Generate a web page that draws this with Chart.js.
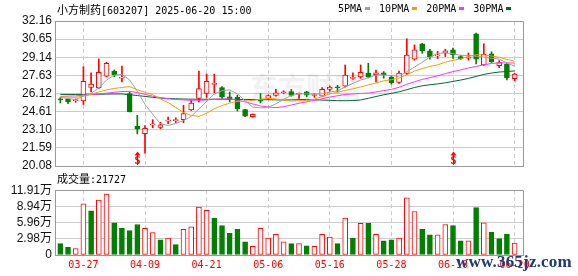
<!DOCTYPE html>
<html>
<head>
<meta charset="utf-8">
<script src="https://cdn.jsdelivr.net/npm/chart.js@4.4.1/dist/chart.umd.min.js"></script>
<style>
body { margin: 0; background: #fff; }
#wrap { position: relative; width: 578px; height: 276px; overflow: hidden; }
canvas { position: absolute; left: 0; }
#price { top: 0; }
#vol { top: 180px; }
.txt { position: absolute; white-space: nowrap; font-family: 'DejaVu Sans Mono', monospace; font-size: 10px; line-height: 12px; color: #000; }
.cn { font-family: 'Noto Sans CJK SC', sans-serif; font-size: 11px; }
.mk { display: inline-block; width: 5px; height: 3px; margin: 0 9px 2px 3px; vertical-align: middle; }
#site { position: absolute; left: 456px; top: 252px; font: bold 17px 'Liberation Serif', serif; color: #1e3a78; letter-spacing: 0.2px; }
</style>
</head>
<body>
<div id="wrap">
  <canvas id="price" width="578" height="180"></canvas>
  <canvas id="vol" width="578" height="96"></canvas>
  <div class="txt" id="title" style="left:57px;top:3px;"></div>
  <div class="txt" id="legend" style="left:338px;top:3px;"></div>
  <div class="txt" id="volTitle" style="left:57px;top:172px;"></div>
  <div id="site">www.365jz.com</div>
</div>
<script>
// ==================== DATA ====================
const stockName = '小方制药';
const stockInfo = '[603207] 2025-06-20 15:00';
const volLabel = '成交量';
const lastVolume = 21727;

const dateLabels = ['03-27', '04-09', '04-21', '05-06', '05-16', '05-28', '06-10', '06-20'];
const dateIdx = [3, 11, 19, 27, 35, 43, 51, 59];
const priceTicks = [20.08, 21.59, 23.10, 24.61, 26.12, 27.63, 29.14, 30.65, 32.16];
const volTicks = [0, 2.98, 5.96, 8.94, 11.91];
const sellIdx = [10, 51];

const open = [25.64, 25.67, 25.53, 25.50, 26.62, 26.59, 27.57, 27.99, 27.40, 26.12,
              23.40, 22.77, 23.50, 23.30, 23.82, 23.86, 23.94, 24.75, 25.70, 26.12,
              26.88, 26.62, 25.84, 25.81, 24.78, 24.19, 25.60, 25.70, 25.96, 26.18,
              26.29, 26.08, 26.25, 25.95, 25.90, 26.46, 26.64, 26.73, 27.38, 27.51,
              27.82, 27.68, 27.85, 27.46, 27.05, 27.80, 28.97, 30.26, 29.67, 29.25,
              29.47, 29.75, 29.19, 29.06, 31.10, 28.50, 29.42, 28.44, 28.55, 27.35];
const high = [25.79, 25.70, 25.67, 28.35, 27.85, 29.00, 28.72, 28.08, 28.41, 26.25,
              24.30, 23.45, 23.94, 23.72, 24.16, 24.10, 25.14, 25.56, 27.99, 27.74,
              27.74, 26.70, 26.25, 25.98, 24.80, 24.42, 26.12, 26.00, 26.46, 26.35,
              26.46, 26.15, 26.30, 26.10, 26.62, 26.75, 26.80, 28.50, 27.85, 28.50,
              28.64, 28.08, 27.95, 27.60, 27.99, 30.68, 30.17, 30.30, 29.81, 29.64,
              29.81, 29.90, 29.30, 29.50, 31.15, 30.26, 29.60, 28.86, 28.64, 27.80];
const low = [25.33, 25.28, 25.39, 25.20, 26.25, 26.54, 27.51, 27.51, 27.09, 24.58,
             22.75, 21.15, 23.27, 23.19, 23.60, 23.70, 23.69, 24.70, 25.42, 25.79,
             26.17, 25.72, 25.42, 24.66, 24.20, 24.15, 25.33, 25.62, 25.90, 26.10,
             25.90, 25.70, 25.85, 25.80, 25.85, 26.30, 26.25, 26.65, 27.30, 27.38,
             27.45, 27.09, 27.40, 26.90, 26.96, 27.70, 28.90, 29.47, 28.97, 29.03,
             29.20, 29.05, 28.95, 28.90, 28.58, 28.45, 28.70, 28.27, 27.26, 27.18];
const close = [25.60, 25.42, 25.58, 27.13, 26.90, 27.88, 28.64, 27.68, 27.46, 24.58,
               23.15, 23.21, 23.55, 23.50, 23.90, 23.92, 24.44, 25.33, 26.54, 27.13,
               26.96, 25.81, 25.67, 24.86, 24.24, 24.38, 25.48, 25.94, 26.17, 26.23,
               25.96, 26.12, 25.98, 26.00, 26.46, 26.65, 26.60, 27.66, 27.43, 27.88,
               27.51, 27.85, 27.68, 27.01, 27.82, 29.33, 29.75, 29.69, 29.19, 29.31,
               29.67, 29.33, 29.00, 29.12, 28.97, 29.39, 28.77, 28.69, 27.43, 27.74];

// volume in 万手, colour by change against the previous close
const volume = [2.1, 1.4, 1.2, 9.4, 8.1, 10.1, 11.2, 5.9, 4.9, 4.5,
                5.6, 4.9, 4.1, 2.8, 3.1, 1.9, 4.7, 5.2, 8.8, 8.2,
                6.8, 5.4, 4.0, 4.7, 2.4, 1.6, 4.9, 3.1, 3.8, 2.4,
                2.1, 2.1, 1.7, 1.6, 3.8, 3.3, 2.1, 6.8, 3.1, 5.8,
                5.8, 3.8, 2.6, 2.8, 3.1, 10.5, 8.0, 4.7, 3.7, 3.7,
                5.6, 5.4, 2.6, 2.6, 8.7, 5.9, 4.2, 3.0, 3.8, 2.17];
const volDir = ['g','g','r','r','g','r','r','g','g','g',
                'g','r','r','g','r','g','r','r','r','r',
                'g','g','g','g','g','r','r','r','r','r',
                'g','r','g','r','r','r','g','r','g','r',
                'g','r','g','g','r','r','r','g','g','r',
                'r','g','g','r','g','r','g','g','g','r'];

const ma5 = [25.80, 25.70, 25.62, 25.90, 26.13, 26.58, 27.23, 27.65, 27.71, 27.25,
             26.30, 25.22, 24.39, 23.60, 23.46, 23.62, 23.86, 24.22, 24.83, 25.47,
             26.08, 26.35, 26.42, 26.09, 25.51, 24.99, 24.93, 24.98, 25.25, 25.64,
             25.96, 26.08, 26.09, 26.06, 26.10, 26.24, 26.34, 26.67, 26.96, 27.24,
             27.42, 27.67, 27.67, 27.59, 27.57, 27.94, 28.32, 28.72, 29.16, 29.45,
             29.52, 29.44, 29.30, 29.29, 29.22, 29.16, 29.05, 28.99, 28.65, 28.40];
const ma10 = [25.84, 25.82, 25.80, 25.90, 26.05, 26.25, 26.42, 26.54, 26.62, 26.69,
              26.44, 26.22, 26.02, 25.66, 25.36, 24.96, 24.54, 24.30, 24.21, 24.47,
              24.85, 25.11, 25.32, 25.46, 25.49, 25.54, 25.64, 25.70, 25.67, 25.58,
              25.48, 25.51, 25.54, 25.65, 25.87, 26.10, 26.21, 26.38, 26.51, 26.67,
              26.83, 27.00, 27.17, 27.27, 27.41, 27.68, 27.99, 28.20, 28.37, 28.51,
              28.73, 28.88, 29.01, 29.22, 29.34, 29.34, 29.24, 29.14, 28.97, 28.81];
const ma20 = [25.88, 25.90, 25.92, 25.98, 26.02, 26.08, 26.15, 26.22, 26.28, 26.30,
              26.20, 26.05, 25.90, 25.78, 25.68, 25.62, 25.58, 25.56, 25.56, 25.58,
              25.65, 25.66, 25.67, 25.56, 25.42, 25.25, 25.09, 25.00, 24.94, 25.02,
              25.16, 25.31, 25.43, 25.55, 25.68, 25.82, 25.93, 26.04, 26.09, 26.13,
              26.15, 26.25, 26.36, 26.46, 26.64, 26.89, 27.10, 27.29, 27.44, 27.59,
              27.78, 27.94, 28.09, 28.25, 28.37, 28.51, 28.62, 28.67, 28.67, 28.66];
const ma30 = [26.04, 26.04, 26.04, 26.05, 26.05, 26.06, 26.07, 26.08, 26.08, 26.02,
              25.95, 25.88, 25.80, 25.74, 25.70, 25.68, 25.66, 25.65, 25.64, 25.64,
              25.64, 25.64, 25.63, 25.63, 25.62, 25.62, 25.61, 25.60, 25.59, 25.58,
              25.59, 25.61, 25.63, 25.59, 25.57, 25.55, 25.52, 25.52, 25.53, 25.58,
              25.72, 25.87, 26.01, 26.13, 26.26, 26.44, 26.62, 26.76, 26.85, 26.92,
              27.01, 27.13, 27.24, 27.38, 27.54, 27.71, 27.82, 27.91, 27.95, 28.00];

const maLabels = ['5PMA', '10PMA', '20PMA', '30PMA'];
const maColors = ['#a0a0a0', '#f5a200', '#ff33ff', '#006633'];

// ==================== TEXT OVERLAYS ====================
document.getElementById('title').innerHTML = '<span class="cn">' + stockName + '</span>' + stockInfo;
document.getElementById('volTitle').innerHTML = '<span class="cn">' + volLabel + '</span>:' + lastVolume;
document.getElementById('legend').innerHTML = maLabels.map((l, k) =>
    l + '<span class="mk" style="background:' + maColors[k] + '"></span>').join('');

// ==================== CHARTS ====================
const UP = '#ff0000';
const DOWN = '#008000';
const GRID = '#cccccc';
const FRAME = '#999999';
const X_MIN = -0.69, X_MAX = 60.09;
const idx = close.map((_, i) => i);

Chart.defaults.font.family = "'Liberation Sans', 'Noto Sans CJK SC', sans-serif";
Chart.defaults.animation = false;

function frameLines(chart) {
    const { ctx, chartArea: a } = chart;
    ctx.save();
    ctx.strokeStyle = FRAME;
    ctx.lineWidth = 1;
    ctx.beginPath();
    ctx.moveTo(a.left, Math.round(a.top) + 0.5);
    ctx.lineTo(a.right + 0.5, Math.round(a.top) + 0.5);
    ctx.lineTo(a.right + 0.5, a.bottom);
    ctx.stroke();
    ctx.restore();
}

function dateXScale(showLabels) {
    return {
        type: 'linear',
        min: X_MIN,
        max: X_MAX,
        offset: false,
        afterBuildTicks: s => { s.ticks = dateIdx.map(v => ({ value: v })); },
        ticks: {
            display: showLabels,
            autoSkip: false,
            maxRotation: 0,
            padding: 4,
            color: UP,
            font: { family: "'DejaVu Sans Mono', monospace", size: 10 },
            callback: v => dateLabels[dateIdx.indexOf(v)]
        },
        grid: { color: GRID, drawTicks: false, offset: false },
        border: { display: true, color: FRAME, dash: [4, 3] },
        afterFit: s => { s.height = showLabels ? 21 : 0; }
    };
}

const pricePlugin = {
    id: 'priceExtras',
    beforeDatasetsDraw(chart) {
        // faint watermark
        const { ctx } = chart;
        ctx.save();
        ctx.fillStyle = 'rgba(120,120,140,0.10)';
        ctx.font = "bold 28px 'Noto Sans CJK SC'";
        ctx.textAlign = 'center';
        ctx.textBaseline = 'middle';
        ctx.fillText('东方财富', 306, 87);
        ctx.restore();
    },
    afterDatasetsDraw(chart) {
        const { ctx } = chart;
        const xs = chart.scales.x;
        ctx.save();
        ctx.fillStyle = UP;
        ctx.strokeStyle = UP;
        sellIdx.forEach(i => {
            const x = Math.round(xs.getPixelForValue(i)) + 0.5;
            ctx.beginPath();
            ctx.moveTo(x, 151.5);
            ctx.lineTo(x - 3, 155.5);
            ctx.lineTo(x + 3, 155.5);
            ctx.closePath();
            ctx.fill();
            ctx.font = "bold 10px 'DejaVu Sans Mono'";
            ctx.textAlign = 'center';
            ctx.textBaseline = 'top';
            ctx.fillText('S', x, 156);
            ctx.beginPath();
            ctx.moveTo(x, 155);
            ctx.lineTo(x, 165);
            ctx.lineWidth = 1;
            ctx.stroke();
        });
        ctx.restore();
    },
    afterDraw: frameLines
};

const maSets = [ma5, ma10, ma20, ma30].map((arr, k) => ({
    type: 'line',
    label: maLabels[k],
    data: arr.map((v, i) => ({ x: i, y: v })),
    borderColor: maColors[k],
    borderWidth: 1,
    pointRadius: 0,
    tension: 0,
    order: 0
}));

new Chart(document.getElementById('price'), {
    type: 'bar',
    data: {
        datasets: [
            ...maSets,
            {
                label: 'body',
                data: idx.map(i => ({ x: i, y: [Math.min(open[i], close[i]), Math.max(open[i], close[i])] })),
                backgroundColor: idx.map(i => close[i] >= open[i] ? '#ffffff' : DOWN),
                borderColor: idx.map(i => close[i] >= open[i] ? UP : DOWN),
                borderWidth: 1,
                borderSkipped: false,
                barThickness: 5,
                minBarLength: 1,
                grouped: false,
                order: 1
            },
            {
                label: 'wick',
                data: idx.map(i => ({ x: i, y: [low[i], high[i]] })),
                backgroundColor: idx.map(i => close[i] >= open[i] ? UP : DOWN),
                barThickness: 1,
                grouped: false,
                order: 2
            }
        ]
    },
    options: {
        responsive: false,
        events: [],
        layout: { padding: { left: 0, top: 21, right: 55, bottom: 14 } },
        plugins: { legend: { display: false }, tooltip: { enabled: false } },
        scales: {
            x: dateXScale(false),
            y: {
                min: 20.08,
                max: 32.16,
                afterBuildTicks: s => { s.ticks = priceTicks.map(v => ({ value: v })); },
                ticks: {
                    autoSkip: false,
                    padding: 3,
                    color: '#111',
                    font: { size: 12 },
                    callback: v => v.toFixed(2)
                },
                grid: { color: GRID, drawTicks: false },
                border: { color: FRAME },
                afterFit: s => { s.width = 55; }
            }
        }
    },
    plugins: [pricePlugin]
});

new Chart(document.getElementById('vol'), {
    type: 'bar',
    data: {
        datasets: [{
            label: 'volume',
            data: idx.map(i => ({ x: i, y: volume[i] })),
            backgroundColor: volDir.map(d => d === 'r' ? '#ffffff' : DOWN),
            borderColor: volDir.map(d => d === 'r' ? UP : DOWN),
            borderWidth: 1,
            borderSkipped: false,
            barThickness: 5
        }]
    },
    options: {
        responsive: false,
        events: [],
        layout: { padding: { left: 0, top: 7, right: 55, bottom: 0 } },
        plugins: { legend: { display: false }, tooltip: { enabled: false } },
        scales: {
            x: dateXScale(true),
            y: {
                min: 0,
                max: 11.91,
                afterBuildTicks: s => { s.ticks = volTicks.map(v => ({ value: v })); },
                ticks: {
                    autoSkip: false,
                    padding: 3,
                    color: '#111',
                    font: { size: 12 },
                    callback: v => v === 0 ? '0' : v.toFixed(2) + '万'
                },
                grid: { color: GRID, drawTicks: false },
                border: { color: FRAME },
                afterFit: s => { s.width = 55; }
            }
        }
    },
    plugins: [{ id: 'volFrame', afterDraw: frameLines }]
});
</script>
</body>
</html>
